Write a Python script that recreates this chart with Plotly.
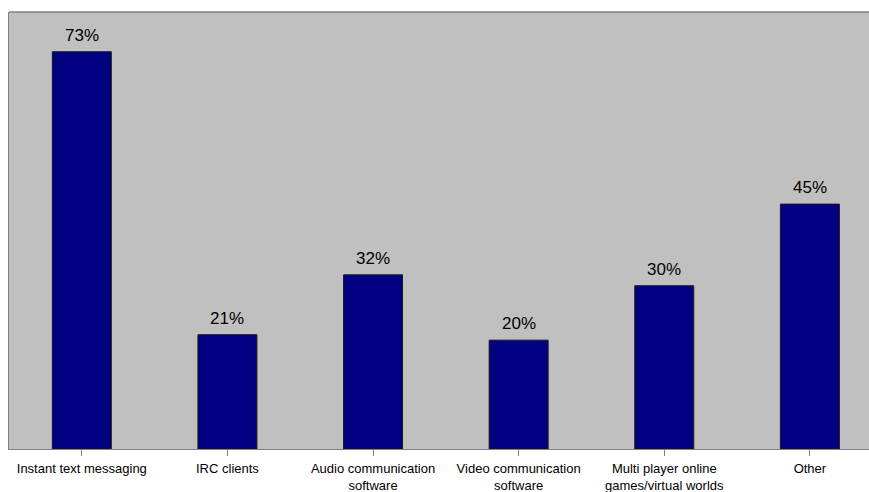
import plotly.graph_objects as go

categories = [
    "Instant text messaging",
    "IRC clients",
    "Audio communication<br>software",
    "Video communication<br>software",
    "Multi player online<br>games/virtual worlds",
    "Other",
]
values = [73, 21, 32, 20, 30, 45]
value_labels = [f"{v}%" for v in values]

fig = go.Figure(
    go.Bar(
        x=list(range(len(categories))),
        y=values,
        width=0.405,
        marker=dict(color="#000080", line=dict(color="#1a1a1a", width=1)),
        hoverinfo="skip",
    )
)

for i, (v, lab) in enumerate(zip(values, value_labels)):
    fig.add_annotation(
        x=i, y=v, text=lab, showarrow=False,
        yanchor="bottom", yshift=5,
        font=dict(family="Liberation Sans, Arial, sans-serif", size=17, color="#000000"),
    )

# the frame runs off the right edge: keep the right side silver, no border
fig.add_shape(
    type="rect", xref="paper", yref="paper",
    x0=0.99, x1=1.02, y0=0.0015, y1=1,
    fillcolor="#c0c0c0", line=dict(width=0), layer="above",
)
# top border of the plot area
fig.add_shape(
    type="line", xref="paper", yref="paper",
    x0=0, x1=1.02, y0=1, y1=1,
    line=dict(color="#808080", width=1.5),
)

fig.update_layout(
    width=869,
    height=492,
    margin=dict(l=9, r=0, t=12, b=43),
    paper_bgcolor="#ffffff",
    plot_bgcolor="#c0c0c0",
    showlegend=False,
    font=dict(family="Liberation Sans, Arial, sans-serif", size=13, color="#000000"),
    xaxis=dict(
        range=[-0.5, 5.406],
        tickmode="array",
        tickvals=list(range(len(categories))),
        ticktext=categories,
        tickson="boundaries",
        ticks="outside",
        ticklen=6,
        tickcolor="#808080",
        ticklabelstandoff=1,
        automargin=False,
        showline=True,
        linecolor="#808080",
        linewidth=1,
        showgrid=False,
        zeroline=False,
        tickfont=dict(size=13),
    ),
    yaxis=dict(
        range=[0, 80.3],
        showticklabels=False,
        ticks="",
        showgrid=False,
        zeroline=False,
        showline=True,
        automargin=False,
        linecolor="#808080",
        linewidth=1,
    ),
)

fig.write_html("out.html")
